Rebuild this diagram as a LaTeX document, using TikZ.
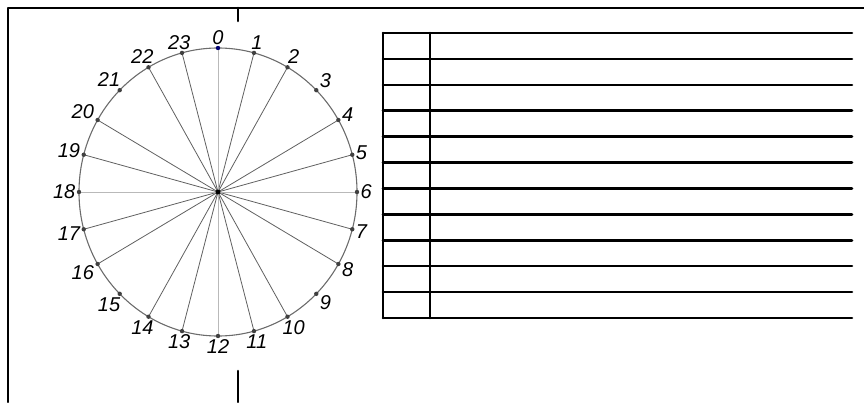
\documentclass[tikz,border=0pt]{standalone}
\usepackage{fontspec}
\setmainfont{Liberation Sans}
\usepackage{tikz}
\usetikzlibrary{calc}

\begin{document}
\begin{tikzpicture}[x=1pt, y=-1pt, line join=round, line cap=round, font=\fontsize{20}{22}\selectfont\itshape]
	\useasboundingbox (0,0) rectangle (864,402);
	% Khung
	\draw[line width=2.6pt] (8,402) -- (8,8) -- (864,8);
	\draw[line width=2.6pt] (238,8) -- (238,21);
	\draw[line width=2.6pt] (238,371) -- (238,402);
	% Mặt đồng hồ 24 giờ
	\coordinate (c) at (218,192);
	\draw[gray!85!black, line width=1.1pt] (c) ellipse (139 and 144);
	\foreach \h in {0,1,...,23} {
		\coordinate (p\h) at ($(c)+({139*sin(15*\h)},{-144*cos(15*\h)})$);
	}
	\foreach \h in {1,2,4,5,7,8,10,11,13,14,16,17,19,20,22,23}
		\draw[gray!75!black, line width=0.8pt] (c) -- (p\h);
	\foreach \h in {0,6,12,18}
		\draw[gray!55, line width=1pt] (c) -- (p\h);
	% Điểm và nhãn
	\foreach \h in {1,2,...,23}
		\fill[black!75] (p\h) circle (2.2pt);
	\fill[blue!45!black] (p0) circle (2.2pt);
	\fill[black] (c) circle (2.4pt);
	\foreach \h in {0,1,...,23}
		\node[anchor={270-15*\h}, inner sep=3.5pt] (l\h) at (p\h) {\h};
	% Bảng
	\foreach \r in {0,1,...,11}
		\draw[line width=2.6pt] (383,{33+25.9*\r}) -- (852,{33+25.9*\r});
	\draw[line width=2.6pt] (383,33) -- (383,318);
	\draw[line width=2.6pt] (430,33) -- (430,318);
\end{tikzpicture}
\end{document}
